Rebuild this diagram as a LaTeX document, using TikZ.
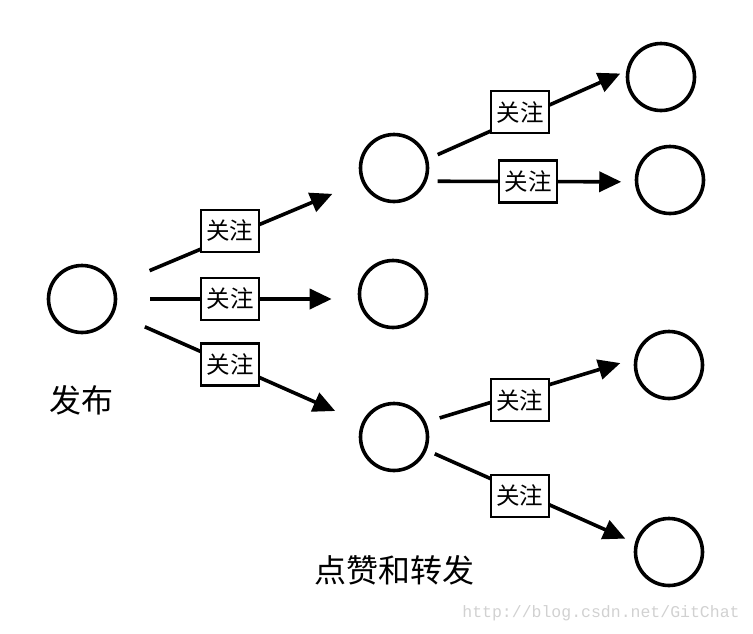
\documentclass[tikz,border=0pt]{standalone}
\usepackage{fontspec}
\newfontfamily\cjk{Noto Sans CJK SC}
\setmonofont{Liberation Mono}
\usetikzlibrary{arrows.meta}
\begin{document}
\begin{tikzpicture}[x=1pt,y=-1pt,>={Triangle[length=22pt,width=20pt]},
    user/.style={circle,draw,line width=3.6pt,minimum size=67pt,inner sep=0pt},
    follow/.style={->,line width=3.6pt},
    tag/.style={draw,fill=white,line width=2.4pt,minimum width=58pt,minimum height=42pt,inner sep=0pt,font=\cjk\fontsize{23.5}{23.5}\selectfont},
    caption/.style={font=\cjk\fontsize{32}{32}\selectfont}]
    \useasboundingbox (0,0) rectangle (753,633);

    % users
    \node[user] (src) at (82,299) {};
    \node[user] (mt) at (394,168) {};
    \node[user] (mm) at (393,294) {};
    \node[user] (mb) at (394,437) {};
    \node[user] (r1) at (661,77) {};
    \node[user] (r2) at (670,180) {};
    \node[user] (r3) at (669,365) {};
    \node[user] (r4) at (669,552) {};

    % follow edges
    \draw[follow, shorten <=38pt, shorten >=31.5pt] (src) -- node[tag,pos=0.467,yshift=6pt] {关注} (mt);
    \draw[follow, shorten <=33pt, shorten >=26pt] (src.east) -- node[tag,pos=0.469] {关注} (src.east -| mm.west);
    \draw[follow, shorten <=33.4pt, shorten >=29pt] (src) -- node[tag,pos=0.468] {关注} (mb);
    \draw[follow, shorten <=10.5pt, shorten >=6.5pt] (mt.15) -- node[tag,pos=0.464,yshift=6pt] {关注} (r1.170);
    \draw[follow, shorten <=11pt, shorten >=13.5pt] (mt.-22) -- node[tag,pos=0.487] {关注} (r2.183);
    \draw[follow, shorten <=14.3pt, shorten >=14.5pt] (mb.25) -- node[tag,pos=0.451,yshift=-6.5pt] {关注} (r3.170);
    \draw[follow, shorten <=8.8pt, shorten >=10.5pt] (mb.-22) -- node[tag,pos=0.448,yshift=-4pt] {关注} (r4.165);

    % captions
    \node[caption] (pub) at (81,400) {发布};
    \node[caption] (share) at (394,570) {点赞和转发};
    \node[text=black!18,font=\ttfamily\fontsize{16.5}{16.5}\selectfont] (wm) at (601,613) {http://blog.csdn.net/GitChat};
\end{tikzpicture}
\end{document}
